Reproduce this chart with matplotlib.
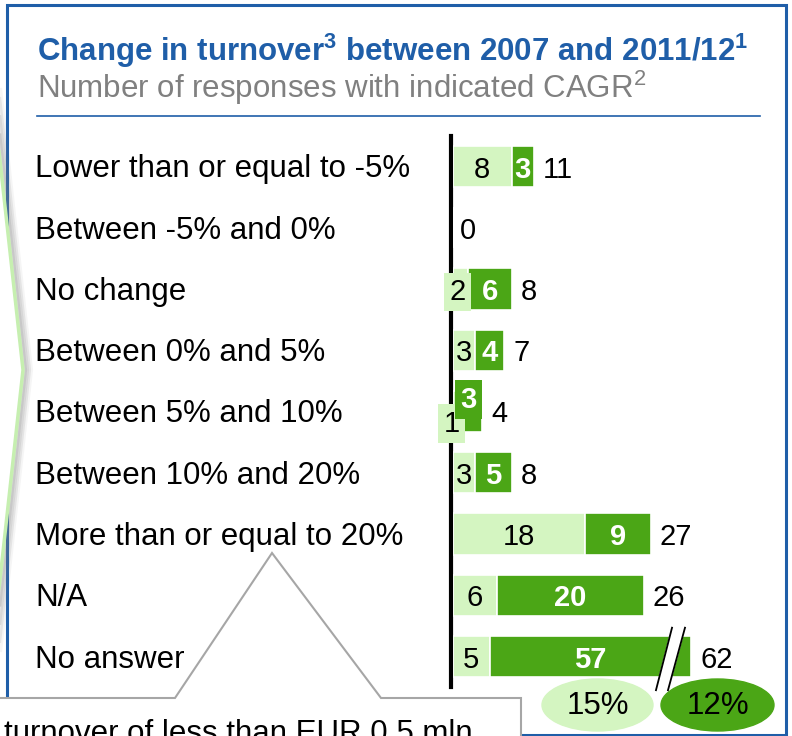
import numpy as np
import matplotlib
matplotlib.use("Agg")
import matplotlib.pyplot as plt
from matplotlib.patches import Rectangle, Polygon, Ellipse

plt.rcParams['font.family'] = ['Liberation Sans', 'DejaVu Sans']
plt.rcParams['mathtext.default'] = 'regular'

# responses per CAGR bucket: small firms (light) and the rest (dark)
categories = ["Lower than or equal to -5%", "Between -5% and 0%", "No change",
              "Between 0% and 5%", "Between 5% and 10%", "Between 10% and 20%",
              "More than or equal to 20%", "N/A", "No answer"]
small = np.array([8, 0, 2, 3, 1, 3, 18, 6, 5])
large = np.array([3, 0, 6, 4, 3, 5, 9, 20, 57])
shares = ["15%", "12%"]

title = "Change in turnover$^3$ between 2007 and 2011/12$^1$"
subtitle = "Number of responses with indicated CAGR$^2$"
note = "turnover of less than EUR 0.5 mln"

LIGHT = '#d4f5c1'
DARK = '#4ba616'
BLUE = '#1f5ea8'
GRAY = '#a6a6a6'

# page geometry in pixels
W, H = 792, 736
PX = 7.33          # pixels per response
X0 = 453           # pixel x of zero
ROW0 = 166.5       # pixel y of first row centre
STEP = 61.25       # row spacing
XMAX = 45
CAP = 27.5         # longest bar shown before the axis break
n = len(categories)

# label nudges in pixels (dx, dy) where labels sit in little boxes
nudge = {(2, 0): (-3, 0), (4, 0): (-5, 9), (4, 1): (-3, -15)}

fig = plt.figure(figsize=(W / 100, H / 100), dpi=100)
bg = fig.add_axes([0, 0, 1, 1], zorder=0)
bg.set_xlim(0, W)
bg.set_ylim(H, 0)
bg.axis('off')

top = ROW0 - STEP / 2
bottom = ROW0 + (n - 0.5) * STEP
ax = fig.add_axes([X0 / W, 1 - bottom / H, XMAX * PX / W, (bottom - top) / H], zorder=2)
ax.set_xlim(0, XMAX)
ax.set_ylim(n - 0.5, -0.5)
ax.axis('off')

# frame, bracket on the left and header
bg.add_patch(Rectangle((7, 5), 779, 730, fill=False, ec=BLUE, lw=2.2, zorder=1))
chev = [(-8, 88), (23, 370), (-8, 652)]
bg.add_patch(Polygon(chev, closed=True, fc='white', ec='none', zorder=2))
for k, a in zip([8, 6, 4, 2], [0.08, 0.14, 0.2, 0.28]):
    xs = [p[0] + k for p in chev]
    ys = [p[1] for p in chev]
    bg.plot(xs, ys, color='#808080', lw=3, alpha=a, solid_capstyle='butt', zorder=2.5)
bg.plot([p[0] for p in chev], [p[1] for p in chev], color='#c6efb0', lw=2.5, zorder=3)

bg.text(37, 61, title, fontsize=22.5, fontweight='bold', color=BLUE, va='baseline', zorder=3)
bg.text(37, 98, subtitle, fontsize=22.5, color='#808080', va='baseline', zorder=3)
bg.plot([37, 760], [116, 116], color=BLUE, lw=1.2, zorder=3)

for i, c in enumerate(categories):
    bg.text(35, ROW0 + i * STEP + 11, c, fontsize=22.5, va='baseline', zorder=3)

# callout box at the bottom
call = [(-5, 698), (175, 698), (272, 553), (381, 698), (521, 698), (521, 750), (-5, 750)]
bg.add_patch(Polygon(call, closed=True, fc='white', ec=GRAY, lw=1.5, zorder=4))
bg.text(4, 742, note, fontsize=22.5, va='baseline', zorder=5)

# share ellipses
bg.add_patch(Ellipse((597.5, 705), 111, 52, color=LIGHT, zorder=4))
bg.add_patch(Ellipse((717.5, 705), 113, 52, color=DARK, zorder=4))
bg.text(597.5, 706, shares[0], fontsize=22.5, ha='center', va='center', zorder=5)
bg.text(717.5, 706, shares[1], fontsize=22.5, ha='center', va='center', zorder=5)

# bars
rows = np.arange(n)
shown = np.minimum(large, CAP)
ax.barh(rows, small, height=0.67, color=LIGHT, edgecolor='white', lw=1.2, zorder=2)
ax.barh(rows, shown, left=small, height=0.67, color=DARK, edgecolor='white', lw=1.2, zorder=2)
ax.axvline(-0.27, color='black', lw=3, zorder=1, clip_on=False)

for i in rows:
    for s, (val, left, width) in enumerate([(small[i], 0, small[i]),
                                             (large[i], small[i], shown[i])]):
        if val == 0:
            continue
        dx, dy = nudge.get((i, s), (0, 0))
        kw = dict(fontsize=21, ha='center', va='center_baseline', zorder=4)
        if s == 1:
            kw.update(color='white', fontweight='bold')
        if (i, s) in nudge:
            kw['bbox'] = dict(boxstyle='square,pad=0.18', fc=LIGHT if s == 0 else DARK, ec='none')
        ax.text(left + width / 2 + dx / PX, i + dy / STEP, str(val), **kw)
    end = small[i] + shown[i]
    ax.text(end + (9 if end > 0 else 7) / PX, i, str(small[i] + large[i]),
            fontsize=21, ha='left', va='center_baseline', zorder=4)

# axis break on the long bar
for i in rows[large > CAP]:
    end = small[i] + shown[i]
    l1 = ([end - 4.81, end - 2.62], [i + 0.55, i - 0.47])
    l2 = ([end - 3.17, end - 0.85], [i + 0.55, i - 0.47])
    ax.fill(l1[0] + l2[0][::-1], l1[1] + l2[1][::-1], color='white', zorder=3, clip_on=False)
    ax.plot(*l1, color='black', lw=1.3, zorder=3, clip_on=False)
    ax.plot(*l2, color='black', lw=1.3, zorder=3, clip_on=False)

fig.savefig('out.png', dpi=100)
